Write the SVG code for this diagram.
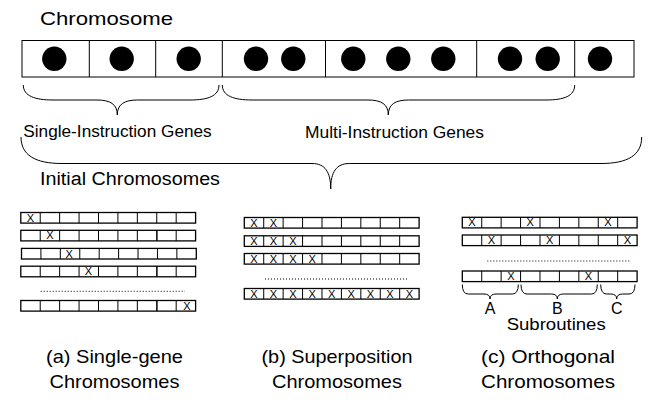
<svg xmlns="http://www.w3.org/2000/svg" xmlns:xlink="http://www.w3.org/1999/xlink" width="659" height="402" viewBox="0 0 659 402">
<style>
  text { font-family: "Liberation Sans", Arial, sans-serif; fill: #000; }
  .ln { fill: none; stroke: #000; stroke-width: 1; }
  .brace { fill: none; stroke: #000; stroke-width: 1; }
  .cell { fill: #fff; stroke: #000; stroke-width: 1.3; }
  .dot { fill: #000; }
  .x { font-size: 11px; text-anchor: middle; }
  .dots { stroke: #000; stroke-width: 1; stroke-dasharray: 1 2; fill: none; }
  .cap { font-size: 19px; text-anchor: middle; }
</style>
<defs>
  <g id="row">
    <rect class="cell" x="0" y="0" width="174.8" height="10.6"/>
    <path class="ln" stroke-width="1.3" d="M19.42,0V10.6M38.84,0V10.6M58.27,0V10.6M77.69,0V10.6M97.11,0V10.6M116.53,0V10.6M135.96,0V10.6M155.38,0V10.6"/>
  </g>
</defs>

<g id="chromosome">
  <text x="40" y="25.3" font-size="19" textLength="133" lengthAdjust="spacingAndGlyphs">Chromosome</text>
  <rect class="ln" x="22" y="40.5" width="612" height="36.5"/>
  <path class="ln" d="M89.3,40.5V77M155.7,40.5V77M222.3,40.5V77M325.5,40.5V77M476.7,40.5V77M574.7,40.5V77"/>
  <circle class="dot" cx="54.3" cy="58.8" r="12.2"/>
  <circle class="dot" cx="121.7" cy="58.8" r="12.2"/>
  <circle class="dot" cx="188.7" cy="58.8" r="12.2"/>
  <circle class="dot" cx="256" cy="58.8" r="12.2"/>
  <circle class="dot" cx="293.3" cy="58.8" r="12.2"/>
  <circle class="dot" cx="353.3" cy="58.8" r="12.2"/>
  <circle class="dot" cx="398.3" cy="58.8" r="12.2"/>
  <circle class="dot" cx="443.3" cy="58.8" r="12.2"/>
  <circle class="dot" cx="510" cy="58.8" r="12.2"/>
  <circle class="dot" cx="547.7" cy="58.8" r="12.2"/>
  <circle class="dot" cx="600" cy="58.8" r="12.2"/>
</g>

<g id="connectors">
  <path class="brace" d="M23.3,85 C23.3,96 35,100 53,100 L97,100 C110,100 117.3,104 117.3,115 C117.3,104 124.6,100 137.6,100 L190,100 C208,100 219,96 219,85"/>
  <path class="brace" d="M222.3,85 C222.3,96 234,100 252,100 L368,100 C381,100 388.3,104 388.3,115 C388.3,104 395.6,100 408.6,100 L546,100 C564,100 574.7,96 574.7,85"/>
  <path class="brace" d="M21,137 C21,155 35,163.5 62,163.5 L312,163.5 C325,163.5 330.7,172 330.7,189 C330.7,172 336.4,163.5 349.4,163.5 L601,163.5 C628,163.5 641.7,155 641.7,137"/>
  <path class="brace" d="M462.3,284.5 Q462.3,294 468.3,294 L484,294 Q490,294 490,299 Q490,294 496,294 L512.3,294 Q518.3,294 518.3,284.5"/>
  <path class="brace" d="M521,284.5 Q521,294 527,294 L551.3,294 Q557.3,294 557.3,299 Q557.3,294 563.3,294 L591.3,294 Q597.3,294 597.3,284.5"/>
  <path class="brace" d="M600.7,284.5 Q600.7,294 606.7,294 L610.7,294 Q616.7,294 616.7,299 Q616.7,294 622.7,294 L629,294 Q635,294 635,284.5"/>
</g>

<g id="labels">
  <text x="23.3" y="136.5" font-size="17" textLength="188.4" lengthAdjust="spacingAndGlyphs">Single-Instruction Genes</text>
  <text x="305" y="137.5" font-size="17" textLength="179" lengthAdjust="spacingAndGlyphs">Multi-Instruction Genes</text>
  <text x="40" y="185" font-size="18" textLength="180" lengthAdjust="spacingAndGlyphs">Initial Chromosomes</text>
</g>

<g id="single-gene">
  <use xlink:href="#row" x="20.8" y="212.5"/>
  <use xlink:href="#row" x="20.8" y="230.3"/>
  <use xlink:href="#row" x="21.5" y="248.4"/>
  <use xlink:href="#row" x="20.8" y="266.2"/>
  <path class="dots" d="M40.7,291.3H185"/>
  <use xlink:href="#row" x="20.8" y="300.5"/>
  <path class="ln" stroke-width="2.2" d="M157,230.3v10.6M157,266.2v10.6M157,300.5v10.6"/>
  <text class="x" x="30.5" y="221.6">X</text>
  <text class="x" x="49.9" y="239.4">X</text>
  <text class="x" x="69.2" y="257.5">X</text>
  <text class="x" x="88.5" y="275.3">X</text>
  <text class="x" x="186.8" y="309.6">X</text>
  <text class="cap" x="114.5" y="363" textLength="137" lengthAdjust="spacingAndGlyphs">(a) Single-gene</text>
  <text class="cap" x="114.5" y="388" textLength="130" lengthAdjust="spacingAndGlyphs">Chromosomes</text>
</g>

<g id="superposition">
  <use xlink:href="#row" x="244.3" y="217.5"/>
  <use xlink:href="#row" x="244.3" y="235.8"/>
  <use xlink:href="#row" x="244.3" y="253.5"/>
  <path class="dots" d="M265,279H409"/>
  <use xlink:href="#row" x="244.3" y="288.5"/>
  <text class="x" x="254" y="226.6">X</text>
  <text class="x" x="273.4" y="226.6">X</text>
  <text class="x" x="254" y="244.9">X</text>
  <text class="x" x="273.4" y="244.9">X</text>
  <text class="x" x="292.8" y="244.9">X</text>
  <text class="x" x="254" y="262.6">X</text>
  <text class="x" x="273.4" y="262.6">X</text>
  <text class="x" x="292.8" y="262.6">X</text>
  <text class="x" x="312.2" y="262.6">X</text>
  <text class="x" x="254" y="297.6">X</text>
  <text class="x" x="273.4" y="297.6">X</text>
  <text class="x" x="292.8" y="297.6">X</text>
  <text class="x" x="312.2" y="297.6">X</text>
  <text class="x" x="331.7" y="297.6">X</text>
  <text class="x" x="351.1" y="297.6">X</text>
  <text class="x" x="370.5" y="297.6">X</text>
  <text class="x" x="389.9" y="297.6">X</text>
  <text class="x" x="409.4" y="297.6">X</text>
  <text class="cap" x="337" y="363" textLength="151" lengthAdjust="spacingAndGlyphs">(b) Superposition</text>
  <text class="cap" x="337" y="388" textLength="130" lengthAdjust="spacingAndGlyphs">Chromosomes</text>
</g>

<g id="orthogonal">
  <use xlink:href="#row" x="462.3" y="217.3"/>
  <use xlink:href="#row" x="462.3" y="235"/>
  <path class="dots" d="M487.3,261H630.7"/>
  <use xlink:href="#row" x="462.3" y="271"/>
  <text class="x" x="472" y="226.4">X</text>
  <text class="x" x="530.2" y="226.4">X</text>
  <text class="x" x="607.9" y="226.4">X</text>
  <text class="x" x="491.4" y="244.1">X</text>
  <text class="x" x="549.6" y="244.1">X</text>
  <text class="x" x="627.3" y="244.1">X</text>
  <text class="x" x="510.8" y="280.1">X</text>
  <text class="x" x="588.5" y="280.1">X</text>
  <text x="490" y="314.3" font-size="16" text-anchor="middle">A</text>
  <text x="557.3" y="314.3" font-size="16" text-anchor="middle">B</text>
  <text x="616.7" y="314.3" font-size="16" text-anchor="middle">C</text>
  <text x="506.7" y="330" font-size="16" textLength="99" lengthAdjust="spacingAndGlyphs">Subroutines</text>
  <text class="cap" x="548" y="363" textLength="134" lengthAdjust="spacingAndGlyphs">(c) Orthogonal</text>
  <text class="cap" x="548" y="388" textLength="134" lengthAdjust="spacingAndGlyphs">Chromosomes</text>
</g>
</svg>
